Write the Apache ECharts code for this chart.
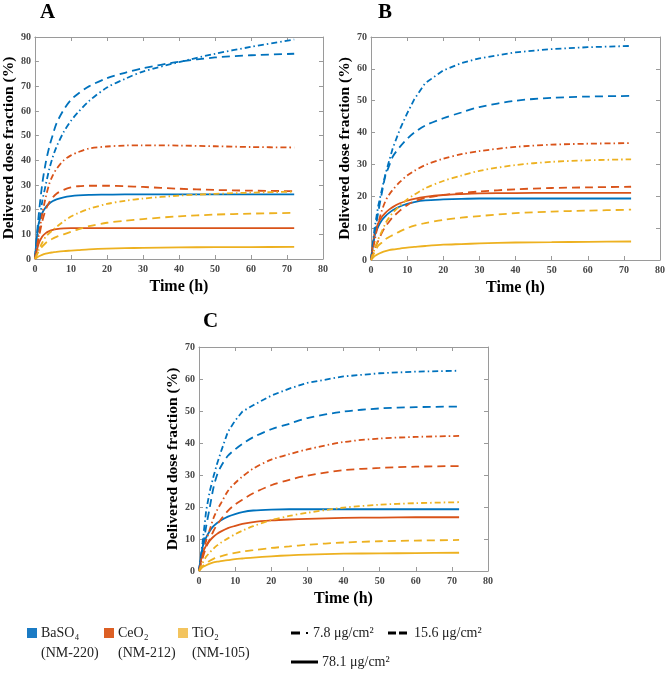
<!DOCTYPE html>
<html>
<head>
<meta charset="utf-8">
<script src="https://cdn.jsdelivr.net/npm/echarts@6/dist/echarts.min.js"></script>
<style>
html,body{margin:0;padding:0;background:#fff;}
#chart{width:669px;height:673px;}
</style>
</head>
<body>
<div id="chart"></div>
<script>
// ---- data ----
var times = [0, 1, 2, 3, 4, 5, 6, 8, 10, 12, 15, 20, 25, 30, 40, 50, 60, 72];
var xTicks = [0, 10, 20, 30, 40, 50, 60, 70, 80];
var materials = ['BaSO\u2084', 'CeO\u2082', 'TiO\u2082'];
var materialCodes = ['(NM-220)', '(NM-212)', '(NM-105)'];
var doses = ['7.8 \u03bcg/cm\u00b2', '15.6 \u03bcg/cm\u00b2', '78.1 \u03bcg/cm\u00b2'];
var panelNames = ['A', 'B', 'C'];
var panelYMax = [90, 70, 70];

// Panel A
var A_BaSO4_7_8  = [0, 12, 23, 30, 36.5, 41.5, 45.5, 51.5, 56, 59.5, 64, 69.5, 73, 76, 79.8, 83.2, 86, 89];
var A_BaSO4_15_6 = [0, 17, 30, 39, 45.5, 50.5, 55, 60.5, 64.5, 67, 70, 73.3, 75.5, 77.3, 80, 81.7, 82.6, 83.2];
var A_BaSO4_78_1 = [0, 14, 18.5, 21, 22.5, 23.5, 24.2, 25, 25.5, 25.8, 26, 26.1, 26.2, 26.2, 26.2, 26.2, 26.2, 26.2];
var A_CeO2_7_8   = [0, 9, 18, 25, 30.5, 34, 36.5, 40, 42, 43.3, 44.8, 45.6, 46, 46.1, 46, 45.7, 45.4, 45.2];
var A_CeO2_15_6  = [0, 8, 15, 20, 23, 25, 26.5, 28, 29, 29.5, 29.7, 29.7, 29.5, 29.2, 28.5, 28, 27.7, 27.5];
var A_CeO2_78_1  = [0, 6, 9, 10.5, 11.3, 11.8, 12.1, 12.4, 12.5, 12.5, 12.5, 12.5, 12.5, 12.5, 12.5, 12.5, 12.5, 12.5];
var A_TiO2_7_8   = [0, 3.5, 6.5, 9, 10.5, 11.8, 13, 15.3, 17.2, 18.6, 20.3, 22.3, 23.6, 24.5, 25.7, 26.4, 26.9, 27.3];
var A_TiO2_15_6  = [0, 3, 5, 6.5, 7.5, 8.3, 9, 10, 11, 12, 13.3, 14.7, 15.5, 16.2, 17.3, 18, 18.4, 18.7];
var A_TiO2_78_1  = [0, 1, 1.7, 2.2, 2.5, 2.7, 2.9, 3.2, 3.4, 3.6, 3.9, 4.2, 4.4, 4.5, 4.7, 4.8, 4.85, 4.9];

// Panel B
var B_BaSO4_7_8  = [0, 10, 17, 22, 27, 31, 35, 41, 46, 50.5, 55.5, 59.5, 61.8, 63.3, 65.2, 66.2, 66.8, 67.2];
var B_BaSO4_15_6 = [0, 8, 15, 21, 26.5, 29.5, 32.4, 35.5, 38, 40, 42.2, 44.5, 46.3, 48, 50, 50.9, 51.3, 51.5];
var B_BaSO4_78_1 = [0, 7.5, 10.5, 12.5, 13.8, 14.8, 15.6, 16.8, 17.6, 18.2, 18.7, 19, 19.2, 19.3, 19.3, 19.3, 19.3, 19.3];
var B_CeO2_7_8   = [0, 6, 11.5, 15.5, 18.5, 20.5, 22, 24.5, 26.5, 28, 29.8, 31.8, 33.2, 34.2, 35.5, 36.2, 36.5, 36.7];
var B_CeO2_15_6  = [0, 3.5, 6, 8.5, 10.5, 12, 13.4, 15.5, 17.2, 18.4, 19.5, 20.4, 21, 21.5, 22.2, 22.6, 22.8, 23];
var B_CeO2_78_1  = [0, 8.5, 11.5, 13.5, 14.8, 15.8, 16.6, 17.8, 18.6, 19.2, 19.8, 20.4, 20.7, 20.9, 21, 21.1, 21.1, 21.1];
var B_TiO2_7_8   = [0, 3.5, 6.5, 9, 11.5, 13.3, 14.8, 17, 19, 20.5, 22.5, 24.8, 26.5, 28, 29.8, 30.8, 31.3, 31.6];
var B_TiO2_15_6  = [0, 2.5, 4.5, 5.5, 6.5, 7.2, 7.8, 9, 10, 10.8, 11.6, 12.6, 13.3, 13.8, 14.7, 15.2, 15.5, 15.8];
var B_TiO2_78_1  = [0, 1.2, 1.9, 2.4, 2.8, 3.1, 3.3, 3.6, 3.9, 4.1, 4.4, 4.8, 5.0, 5.2, 5.5, 5.6, 5.7, 5.8];

// Panel C
var C_BaSO4_7_8  = [0, 9, 19, 25, 29.5, 33.5, 37, 43.5, 47, 49.8, 51.8, 54.8, 57, 58.8, 60.8, 61.8, 62.3, 62.6];
var C_BaSO4_15_6 = [0, 7, 14, 20, 26, 30, 32.5, 36, 38, 39.7, 41.8, 44.3, 46, 47.8, 49.8, 50.8, 51.2, 51.4];
var C_BaSO4_78_1 = [0, 7.5, 10.5, 12.5, 14, 15, 15.8, 17, 17.8, 18.4, 18.9, 19.2, 19.3, 19.3, 19.3, 19.3, 19.3, 19.3];
var C_CeO2_7_8   = [0, 5, 9.5, 13, 16.5, 19, 21, 25, 27.5, 29.5, 32, 34.8, 36.5, 38, 40.3, 41.4, 41.9, 42.2];
var C_CeO2_15_6  = [0, 4, 7.5, 10, 12.5, 14.5, 16, 18.8, 20.8, 22.3, 24.3, 26.8, 28.5, 29.8, 31.5, 32.2, 32.6, 32.8];
var C_CeO2_78_1  = [0, 5.5, 8, 9.5, 10.7, 11.6, 12.3, 13.4, 14.1, 14.7, 15.3, 15.8, 16.1, 16.3, 16.6, 16.7, 16.8, 16.8];
var C_TiO2_7_8   = [0, 2.5, 4.5, 5.8, 7, 8, 8.8, 10.2, 11.5, 12.6, 14, 15.9, 17.2, 18.2, 19.8, 20.7, 21.2, 21.5];
var C_TiO2_15_6  = [0, 1.5, 2.5, 3.2, 3.8, 4.2, 4.6, 5.2, 5.7, 6.1, 6.5, 7.2, 7.7, 8.2, 8.9, 9.3, 9.5, 9.7];
var C_TiO2_78_1  = [0, 1.2, 1.8, 2.3, 2.7, 2.9, 3.1, 3.4, 3.7, 3.9, 4.2, 4.6, 4.9, 5.1, 5.4, 5.5, 5.6, 5.7];

var panels = [
  [[A_BaSO4_7_8, A_BaSO4_15_6, A_BaSO4_78_1], [A_CeO2_7_8, A_CeO2_15_6, A_CeO2_78_1], [A_TiO2_7_8, A_TiO2_15_6, A_TiO2_78_1]],
  [[B_BaSO4_7_8, B_BaSO4_15_6, B_BaSO4_78_1], [B_CeO2_7_8, B_CeO2_15_6, B_CeO2_78_1], [B_TiO2_7_8, B_TiO2_15_6, B_TiO2_78_1]],
  [[C_BaSO4_7_8, C_BaSO4_15_6, C_BaSO4_78_1], [C_CeO2_7_8, C_CeO2_15_6, C_CeO2_78_1], [C_TiO2_7_8, C_TiO2_15_6, C_TiO2_78_1]]
];

// ---- styling ----
var lineColors = ['#0072BD', '#D95319', '#EDB120'];
var swatchColors = ['#1B7BC4', '#DC5F24', '#F3C45E'];
var dashTypes = [[6, 3, 1.5, 3], [8, 5], 'solid'];
var serif = '"Liberation Serif", "Times New Roman", serif';
var grids = [
  {left: 34, top: 37, width: 289, height: 222},
  {left: 371, top: 37, width: 289, height: 223},
  {left: 199, top: 347, width: 289, height: 224}
];

var chart = echarts.init(document.getElementById('chart'), null, {renderer: 'canvas'});

var xAxes = [], yAxes = [], series = [], gridOpts = [];
grids.forEach(function (g, i) {
  gridOpts.push({left: g.left, top: g.top, width: g.width, height: g.height, show: false});
  var axisLine = {show: true, onZero: false, lineStyle: {color: '#9a9a9a', width: 1}};
  var tick = {show: true, inside: true, length: 4, lineStyle: {color: '#9a9a9a'}};
  var lab = {color: '#454545', fontFamily: serif, fontWeight: 'bold', fontSize: 10};
  xAxes.push({
    type: 'value', gridIndex: i, min: 0, max: 80, interval: 10, position: 'bottom',
    axisLine: axisLine, axisTick: tick, splitLine: {show: false},
    axisLabel: Object.assign({margin: 5}, lab),
    name: 'Time (h)', nameLocation: 'middle', nameGap: 20,
    nameTextStyle: {color: '#000', fontFamily: serif, fontWeight: 'bold', fontSize: 16}
  });
  xAxes.push({
    type: 'value', gridIndex: i, min: 0, max: 80, interval: 10, position: 'top',
    axisLine: axisLine, axisTick: tick, splitLine: {show: false}, axisLabel: {show: false}
  });
  yAxes.push({
    type: 'value', gridIndex: i, min: 0, max: panelYMax[i], interval: 10, position: 'left',
    axisLine: axisLine, axisTick: tick, splitLine: {show: false},
    axisLabel: Object.assign({margin: 4}, lab),
    name: 'Delivered dose fraction (%)', nameLocation: 'middle', nameGap: 14, nameRotate: 90,
    nameTextStyle: {color: '#000', fontFamily: serif, fontWeight: 'bold', fontSize: 15.5}
  });
  yAxes.push({
    type: 'value', gridIndex: i, min: 0, max: panelYMax[i], interval: 10, position: 'right',
    axisLine: axisLine, axisTick: tick, splitLine: {show: false}, axisLabel: {show: false}
  });
  var pdata = panels[i];
  for (var m = 0; m < 3; m++) {
    for (var d = 0; d < 3; d++) {
      var vals = pdata[m][d];
      var pts = times.map(function (t, k) { return [t, vals[k]]; });
      var kinked = (i > 0 && m === 0 && d === 0);
      series.push({
        type: 'line', name: materials[m] + ' ' + doses[d],
        xAxisIndex: i * 2, yAxisIndex: i * 2,
        data: pts, showSymbol: false, symbol: 'none',
        smooth: kinked ? false : 0.3,
        lineStyle: {color: lineColors[m], width: 1.8, type: dashTypes[d]},
        z: 3 - d
      });
    }
  }
});

// ---- panel letters & legend graphics ----
var graphic = [];
var letterPos = [[47, 12], [385, 12], [210, 321]];
panelNames.forEach(function (n, i) {
  graphic.push({type: 'text', left: letterPos[i][0] - 7, top: letterPos[i][1] - 10,
    style: {text: n, font: 'bold 21px ' + serif, fill: '#000'}});
});
var swX = [27, 104, 178];
materials.forEach(function (mname, m) {
  graphic.push({type: 'rect', shape: {x: swX[m], y: 628, width: 10, height: 10},
    style: {fill: swatchColors[m]}});
  graphic.push({type: 'text', x: swX[m] + 14, y: 633,
    style: {text: mname, font: '14px ' + serif, fill: '#222', verticalAlign: 'middle'}});
  graphic.push({type: 'text', x: swX[m] + 14, y: 653,
    style: {text: materialCodes[m], font: '14px ' + serif, fill: '#222', verticalAlign: 'middle'}});
});
// dose line-style legend
graphic.push({type: 'line', shape: {x1: 291, y1: 633, x2: 300, y2: 633}, style: {stroke: '#000', lineWidth: 3}});
graphic.push({type: 'rect', shape: {x: 306, y: 632, width: 2, height: 2}, style: {fill: '#000'}});
graphic.push({type: 'text', x: 313, y: 633, style: {text: doses[0], font: '14px ' + serif, fill: '#222', verticalAlign: 'middle'}});
graphic.push({type: 'line', shape: {x1: 388, y1: 633, x2: 396, y2: 633}, style: {stroke: '#000', lineWidth: 3}});
graphic.push({type: 'line', shape: {x1: 399, y1: 633, x2: 407, y2: 633}, style: {stroke: '#000', lineWidth: 3}});
graphic.push({type: 'text', x: 414, y: 633, style: {text: doses[1], font: '14px ' + serif, fill: '#222', verticalAlign: 'middle'}});
graphic.push({type: 'line', shape: {x1: 291, y1: 662, x2: 318, y2: 662}, style: {stroke: '#000', lineWidth: 3}});
graphic.push({type: 'text', x: 322, y: 662, style: {text: doses[2], font: '14px ' + serif, fill: '#222', verticalAlign: 'middle'}});

chart.setOption({
  backgroundColor: '#fff',
  animation: false,
  grid: gridOpts,
  xAxis: xAxes,
  yAxis: yAxes,
  series: series,
  graphic: graphic
});
</script>
</body>
</html>
